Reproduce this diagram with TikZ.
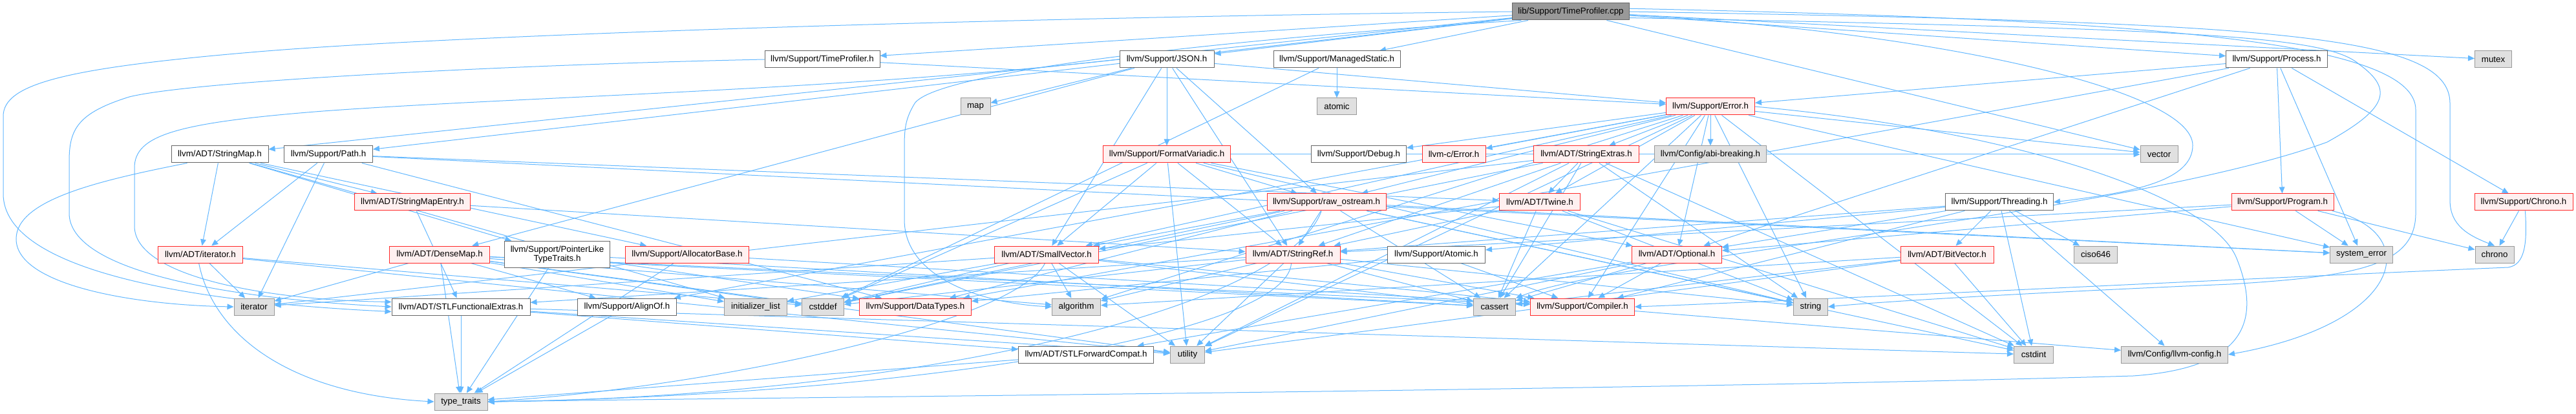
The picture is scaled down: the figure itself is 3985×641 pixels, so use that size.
\documentclass[tikz,border=0pt]{standalone}
\usepackage{fontspec}
\setmainfont{Liberation Sans}
\usetikzlibrary{arrows.meta,backgrounds}
\definecolor{edgec}{RGB}{99,184,255}
\definecolor{rootfill}{RGB}{153,153,153}
\definecolor{rootdraw}{RGB}{102,102,102}
\definecolor{wdraw}{RGB}{102,102,102}
\definecolor{rfill}{RGB}{255,240,240}
\definecolor{rdraw}{RGB}{255,40,40}
\definecolor{gfill}{RGB}{224,224,224}
\definecolor{gdraw}{RGB}{153,153,153}
\tikzset{
  base/.style={draw, line width=0.75pt, inner sep=0pt, minimum height=19.5pt,
    font=\fontsize{10}{10.5}\selectfont, align=center},
  root/.style={base, fill=rootfill, draw=rootdraw},
  wnode/.style={base, fill=white, draw=wdraw},
  rnode/.style={base, fill=rfill, draw=rdraw},
  gnode/.style={base, fill=gfill, draw=gdraw},
  depline/.style={draw=edgec, line width=0.75pt, -{Triangle[length=7.5pt,width=6.5pt]}},
}
\newcommand{\nd}[6]{\node[#5, minimum width={#4*0.75pt}] (#1) at (#2,#3) {#6};}
\newcommand{\dep}[2]{\foreach \tg in {#2} {\draw[depline] (#1) -- (\tg);}}
\begin{document}
\begin{tikzpicture}[x=0.75pt,y=-0.75pt]
\useasboundingbox (0,0) rectangle (3985,641);
% nodes
\nd{cpp}{2430}{18}{181}{root}{lib/Support/TimeProfiler.cpp}
\nd{tph}{1272}{92}{178}{wnode}{llvm/Support/TimeProfiler.h}
\nd{json}{1805}{92}{146}{wnode}{llvm/Support/JSON.h}
\nd{ms}{2068}{92}{196}{wnode}{llvm/Support/ManagedStatic.h}
\nd{proc}{3522}{92}{157}{wnode}{llvm/Support/Process.h}
\nd{mutex}{3857}{92}{57}{gnode}{mutex}
\nd{map}{1509}{165}{46}{gnode}{map}
\nd{atomic}{2068}{165}{61}{gnode}{atomic}
\nd{err}{2646}{165}{137}{rnode}{llvm/Support/Error.h}
\nd{smap}{340}{239}{150}{wnode}{llvm/ADT/StringMap.h}
\nd{path}{508}{239}{137}{wnode}{llvm/Support/Path.h}
\nd{fv}{1805}{239}{197}{rnode}{llvm/Support/FormatVariadic.h}
\nd{debug}{2102}{239}{147}{wnode}{llvm/Support/Debug.h}
\nd{cerr}{2249}{239}{98}{rnode}{llvm-c/Error.h}
\nd{sext}{2454}{239}{163}{rnode}{llvm/ADT/StringExtras.h}
\nd{abi}{2646}{239}{173}{gnode}{llvm/Config/abi-breaking.h}
\nd{vector}{3340}{239}{58}{gnode}{vector}
\nd{sme}{638}{313}{179}{rnode}{llvm/ADT/StringMapEntry.h}
\nd{ros}{2052}{313}{184}{rnode}{llvm/Support/raw\_ostream.h}
\nd{twine}{2382}{313}{125}{rnode}{llvm/ADT/Twine.h}
\nd{thr}{3093}{313}{167}{wnode}{llvm/Support/Threading.h}
\nd{prog}{3531}{313}{158}{rnode}{llvm/Support/Program.h}
\nd{chronoh}{3904}{313}{152}{rnode}{llvm/Support/Chrono.h}
\nd{iterh}{310}{394}{131}{rnode}{llvm/ADT/iterator.h}
\nd{dmap}{680}{394}{155}{rnode}{llvm/ADT/DenseMap.h}
\node[wnode, minimum width={163*0.75pt}, minimum height=30.75pt] (plt) at (862,394) {llvm/Support/PointerLike\\TypeTraits.h};
\nd{alloc}{1063}{394}{191}{rnode}{llvm/Support/AllocatorBase.h}
\nd{svec}{1619}{394}{161}{rnode}{llvm/ADT/SmallVector.h}
\nd{sref}{2000}{394}{146}{rnode}{llvm/ADT/StringRef.h}
\nd{atomich}{2222}{394}{151}{wnode}{llvm/Support/Atomic.h}
\nd{opt}{2594}{394}{139}{rnode}{llvm/ADT/Optional.h}
\nd{bitv}{3012}{394}{144}{rnode}{llvm/ADT/BitVector.h}
\nd{ciso}{3242}{394}{67}{gnode}{ciso646}
\nd{syserr}{3653}{394}{97}{gnode}{system\_error}
\nd{chrono}{3859}{394}{60}{gnode}{chrono}
\nd{iter}{393}{475}{62}{gnode}{iterator}
\nd{stlfe}{713}{475}{214}{wnode}{llvm/ADT/STLFunctionalExtras.h}
\nd{align}{970}{475}{153}{wnode}{llvm/Support/AlignOf.h}
\nd{initl}{1169}{475}{97}{gnode}{initializer\_list}
\nd{cstddef}{1273}{475}{65}{gnode}{cstddef}
\nd{dtypes}{1416}{475}{173}{rnode}{llvm/Support/DataTypes.h}
\nd{algo}{1665}{475}{75}{gnode}{algorithm}
\nd{cassert}{2312}{475}{65}{gnode}{cassert}
\nd{comp}{2448}{475}{161}{rnode}{llvm/Support/Compiler.h}
\nd{string}{2801}{475}{53}{gnode}{string}
\nd{stlfc}{1680}{549}{209}{wnode}{llvm/ADT/STLForwardCompat.h}
\nd{utility}{1837}{549}{53}{gnode}{utility}
\nd{cstdint}{3146}{549}{61}{gnode}{cstdint}
\nd{llvmcfg}{3364}{549}{165}{gnode}{llvm/Config/llvm-config.h}
\nd{tt}{713}{622}{82}{gnode}{type\_traits}
\begin{pgfonlayer}{background}
\fill[white] (0,0) rectangle (3985,641);
% generic edges
\dep{cpp}{tph,smap,json,ms,path,proc,mutex,vector}
\dep{tph}{err}
\dep{json}{dmap,svec,sref,err,fv,ros,map}
\dep{ms}{atomic,cstddef}
\dep{path}{twine,iterh,dtypes,iter,syserr}
\dep{smap}{sme,iterh,alloc,plt,initl}
\dep{proc}{chronoh,dtypes,err,prog,syserr,opt}
\dep{thr}{bitv,opt,sref,llvmcfg,comp,ciso,cstdint,atomich}
\dep{err}{cerr,opt,svec,sext,twine,abi,align,comp,debug,ros,algo,cassert,cstdint,string,syserr,utility,vector}
\dep{fv}{opt,svec,sref,ros,cstddef,string,utility,vector}
\dep{sext}{sref,twine,cassert,cstddef,cstdint,iter,string,utility}
\dep{ros}{svec,sref,dtypes,cassert,cstddef,cstdint,string,syserr}
\dep{twine}{svec,sref,cassert,cstdint,string}
\dep{prog}{opt,sref,chrono,syserr}
\dep{chronoh}{chrono}
\dep{sme}{sref,stlfe}
\dep{iterh}{cstddef,iter,utility}
\dep{dmap}{align,comp,algo,cassert,cstddef,initl,iter,tt,utility}
\dep{plt}{dtypes,cassert,tt}
\dep{alloc}{comp,tt}
\dep{svec}{comp,algo,cassert,cstddef,initl,iter,utility}
\dep{sref}{stlfe,comp,algo,cassert,cstddef,string,utility}
\dep{atomich}{comp,dtypes}
\dep{opt}{stlfc,comp,cassert,utility}
\dep{bitv}{algo,cassert,cstdint,utility}
\dep{stlfe}{stlfc,cstdint,tt,utility}
\dep{align}{tt}
\dep{comp}{llvmcfg}
\dep{stlfc}{tt}
% routed edges
\draw[depline] (cpp.west) .. controls (1500,28) and (700,55) .. (400,80) .. controls (100,105) and (5,130) .. (5,180) -- (5,300) .. controls (5,420) and (300,468) .. (stlfe.184);
\draw[depline] (tph.west) .. controls (800,100) and (300,125) .. (200,150) .. controls (120,175) and (107,200) .. (107,250) -- (107,330) .. controls (107,420) and (350,462) .. (stlfe.180);
\draw[depline] (json.west) .. controls (1300,140) and (800,150) .. (500,172) .. controls (270,190) and (208,210) .. (208,260) -- (208,350) .. controls (208,430) and (420,465) .. (stlfe.176);
\draw[depline] (cpp.190) .. controls (1900,60) and (1450,110) .. (1415,160) .. controls (1400,185) and (1399,200) .. (1399,230) -- (1399,340) .. controls (1399,430) and (1520,470) .. (algo.west);
\draw[depline] (smap.195) .. controls (150,280) and (25,310) .. (25,370) .. controls (25,440) and (200,472) .. (iter.west);
\draw[depline] (cpp.3) .. controls (3300,30) and (3737,60) .. (3737,170) -- (3737,330) .. controls (3737,410) and (3650,428) .. (3450,440) .. controls (3100,455) and (2900,468) .. (string.east);
\draw[depline] (cpp.0) .. controls (3500,35) and (3790,50) .. (3790,160) -- (3790,310) .. controls (3790,350) and (3820,365) .. (chrono.north);
\draw[depline] (cpp.-3) .. controls (3000,50) and (3392,140) .. (3392,225) .. controls (3392,280) and (3300,298) .. (thr.east);
\draw[depline] (cpp.-6) .. controls (3400,45) and (3600,55) .. (3650,100) .. controls (3705,140) and (3690,170) .. (3600,220) .. controls (3300,330) and (2500,400) .. (cassert.north east);
\draw[depline] (chronoh.-80) .. controls (3910,380) and (3905,410) .. (3880,414) .. controls (3500,430) and (2800,465) .. (comp.east);
\draw[depline] (prog.-10) .. controls (3750,360) and (3720,500) .. (llvmcfg.east);
\draw[depline] (iterh.-100) .. controls (330,520) and (450,610) .. (tt.west);
\draw[depline] (err.east) .. controls (3100,200) and (3420,300) .. (3460,400) .. controls (3500,500) and (3470,570) .. (3300,582) .. controls (2500,605) and (1200,615) .. (tt.east);
\draw[depline] (svec.-100) .. controls (1570,500) and (1100,600) .. (tt.east);
\draw[depline] (sref.-100) .. controls (1990,520) and (1400,612) .. (tt.east);
\draw[depline] (ros.-120) .. controls (1990,480) and (1400,615) .. (tt.east);
\end{pgfonlayer}
\end{tikzpicture}
\end{document}
